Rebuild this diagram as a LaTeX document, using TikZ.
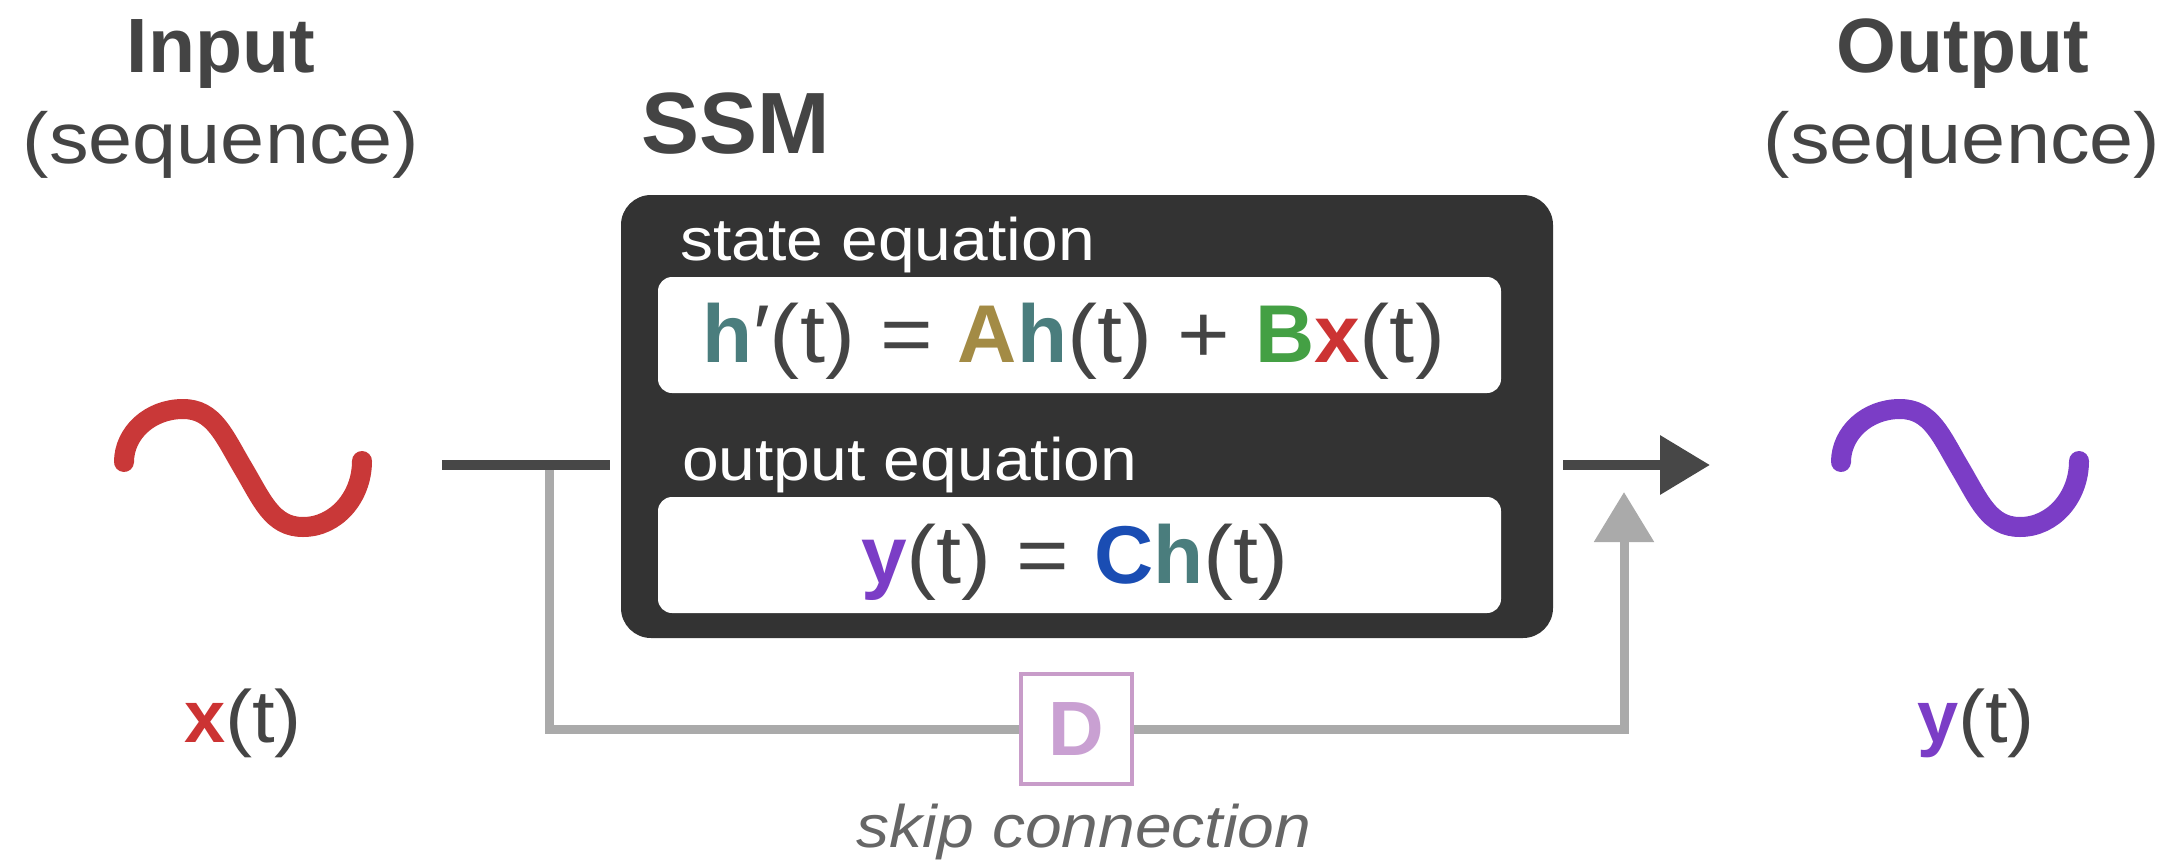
\documentclass[tikz,border=0pt]{standalone}
\usepackage{fontspec}
\setmainfont{Liberation Sans}
\newfontfamily\regf[FakeStretch=1.1]{Liberation Sans}
\usetikzlibrary{arrows.meta}
\definecolor{ink}{HTML}{444444}
\definecolor{boxdark}{HTML}{333333}
\definecolor{linedark}{HTML}{474747}
\definecolor{skipgray}{HTML}{AAAAAA}
\definecolor{hcol}{HTML}{4A7D7D}
\definecolor{acol}{HTML}{A38B45}
\definecolor{bcol}{HTML}{44A044}
\definecolor{xcol}{HTML}{CC3333}
\definecolor{ycol}{HTML}{7B3DC6}
\definecolor{ccol}{HTML}{1A4DB3}
\definecolor{dtext}{HTML}{C9A0D2}
\definecolor{dborder}{HTML}{C89CC9}
\definecolor{skiptext}{HTML}{666666}
\definecolor{wavered}{HTML}{C93838}
\definecolor{wavepurple}{HTML}{7B3DC6}
\newcommand\rg[1]{{\regf\color{ink}#1}}
\newcommand\bd[2]{{\bfseries\color{#1}#2}}
\begin{document}
\begin{tikzpicture}[x=1pt,y=-1pt,
  title/.style={anchor=base,inner sep=0pt,text=ink,font=\bfseries\fontsize{77}{80}\selectfont},
  subtitle/.style={anchor=base,inner sep=0pt,text=ink,font=\regf\fontsize{72}{80}\selectfont},
  boxlabel/.style={anchor=base west,inner sep=0pt,text=white,font=\regf\fontsize{60}{66}\selectfont},
  eqtext/.style={anchor=base,inner sep=0pt,font=\fontsize{82}{90}\selectfont},
  sigtext/.style={anchor=base,inner sep=0pt,font=\fontsize{74}{80}\selectfont},
  ssmbox/.style={fill=boxdark,rounded corners=30pt,inner sep=0pt,minimum width=932pt,minimum height=443pt},
  eqbox/.style={fill=white,rounded corners=14pt,inner sep=0pt,minimum width=843pt,minimum height=116pt},
  dbox/.style={draw=dborder,line width=4pt,fill=white,inner sep=0pt,minimum width=111pt,minimum height=110pt,text=dtext,font=\bfseries\fontsize{77}{80}\selectfont},
  darkline/.style={draw=linedark,line width=10pt},
  skipline/.style={draw=skipgray,line width=9pt},
  wave/.style={line width=20pt,line cap=round,line join=round}
]
\useasboundingbox (0,0) rectangle (2177,860);

% titles
\node[title] (inTitle) at (221,72) {Input};
\node[subtitle] (inSub) at (221,163) {(sequence)};
\node[title] (outTitle) at (1963,72) {Output};
\node[subtitle] (outSub) at (1962,163) {(sequence)};
\node[anchor=base,inner sep=0pt,text=ink,font=\bfseries\fontsize{87}{90}\selectfont] (ssmTitle) at (736,153) {SSM};

% SSM box
\node[ssmbox] (ssm) at (1087,416.5) {};
\node[boxlabel] (stateLbl) at (680,260) {state equation};
\node[eqbox] (eqA) at (1079.5,335) {};
\node[eqtext] (eqAtxt) at (1074,362) {\bd{hcol}{h}\rg{′(t) = }\bd{acol}{A}\bd{hcol}{h}\rg{(t) + }\bd{bcol}{B}\bd{xcol}{x}\rg{(t)}};
\node[boxlabel] (outLbl) at (682,480) {output equation};
\node[eqbox] (eqB) at (1079.5,555) {};
\node[eqtext] (eqBtxt) at (1075,583) {\bd{ycol}{y}\rg{(t) = }\bd{ccol}{C}\bd{hcol}{h}\rg{(t)}};

% waves
\draw[wave,wavered] (124,462) .. controls (124,433) and (150,409) .. (183,409)
  .. controls (214,409) and (224,436) .. (243,468)
  .. controls (262,500) and (272,527) .. (303,527)
  .. controls (336,527) and (362,497) .. (362,461);
\draw[wave,wavepurple] (1841,462) .. controls (1841,433) and (1867,409) .. (1900,409)
  .. controls (1931,409) and (1941,436) .. (1960,468)
  .. controls (1979,500) and (1989,527) .. (2020,527)
  .. controls (2053,527) and (2079,497) .. (2079,461);

% signal labels
\node[sigtext] (xlbl) at (243,742) {\bd{xcol}{x}\rg{(t)}};
\node[sigtext] (ylbl) at (1976,742) {\bd{ycol}{y}\rg{(t)}};

% connectors
\coordinate (inL) at (442,465);
\coordinate (split) at (549,465);
\coordinate (inR) at (610,465);
\coordinate (outL) at (1563,465);
\coordinate (outTip) at (1710,465);
\coordinate (skipTip) at (1624,492);
\node[dbox] (d) at (1076.5,729) {D};
\draw[skipline] (split) |- (d.west);
\draw[skipline,-{Triangle[length=50pt,width=58pt]}] (d.east) -| (skipTip);
\draw[darkline] (inL) -- (inR);
\draw[darkline,-{Triangle[length=50pt,width=57pt]}] (outL) -- (outTip);

\node[anchor=base,inner sep=0pt,text=skiptext,font=\regf\itshape\fontsize{60}{66}\selectfont] (skipLbl) at (1084,847) {skip connection};
\end{tikzpicture}
\end{document}
